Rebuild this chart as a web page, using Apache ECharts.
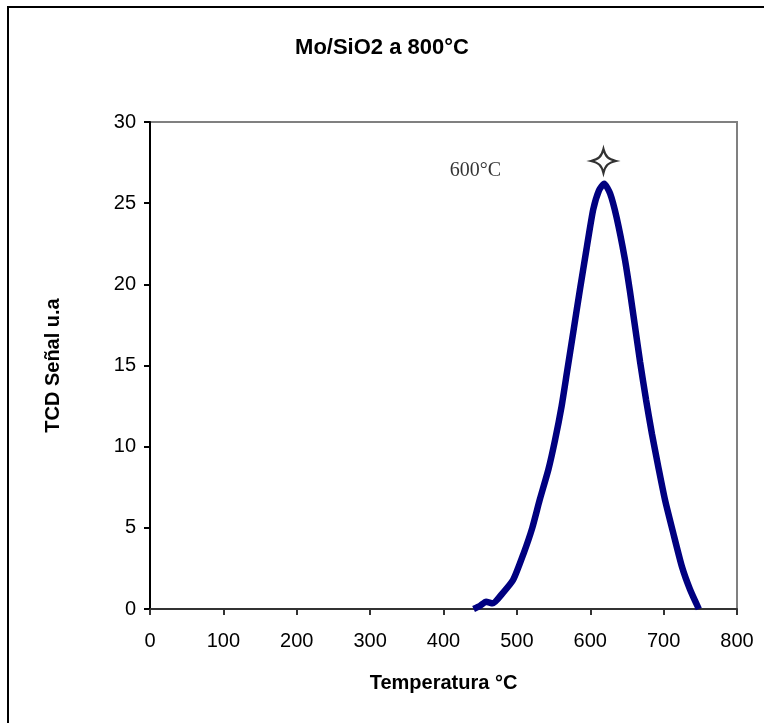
<!DOCTYPE html>
<html>
<head>
<meta charset="utf-8">
<script src="https://cdn.jsdelivr.net/npm/echarts@6/dist/echarts.min.js"></script>
<style>
  html, body { margin: 0; padding: 0; background: #fff; }
  #main { width: 764px; height: 723px; }
</style>
</head>
<body>
<div id="main"></div>
<script>
var dom = document.getElementById("main");
var myChart = echarts.init(dom, null, { renderer: "canvas" });

// TPR curve
var temps = [441, 450, 458, 467, 481, 495, 509, 521, 531, 543, 552, 561, 568, 577, 586, 595, 604, 612, 619,
  627, 636, 647, 654, 661, 668, 676, 684, 693, 702, 713, 725, 736, 748];
var signal = [0, 0.2, 0.45, 0.35, 1.0, 1.8, 3.4, 5.0, 6.7, 8.6, 10.4, 12.5, 14.5, 17.1, 19.7, 22.2, 24.6, 25.8, 26.2,
  25.6, 24.1, 21.6, 19.6, 17.4, 15.2, 12.9, 10.8, 8.7, 6.7, 4.7, 2.6, 1.2, 0];
var peakMark = [618, 27.6];
var peakLabel = [443.6, 27.0];
var peakText = "600°C";
var xTicks = [0, 800, 100];
var yTicks = [0, 30, 5];

var curve = temps.map(function (t, i) { return [t, signal[i]]; });

var starPath = "path://M0,-10 C1.6,-3.6 3.6,-1.6 10,0 C3.6,1.6 1.6,3.6 0,10 C-1.6,3.6 -3.6,1.6 -10,0 C-3.6,-1.6 -1.6,-3.6 0,-10 Z";

var option = {
  animation: false,
  backgroundColor: "#fff",
  textStyle: { fontFamily: "Liberation Sans, Arial, sans-serif" },
  title: {
    text: "Mo/SiO2 a 800°C",
    left: "center",
    top: 32,
    textStyle: { fontSize: 22, fontWeight: "bold", color: "#000" }
  },
  graphic: [
    {
      type: "rect",
      shape: { x: 8, y: 7, width: 800, height: 800 },
      style: { fill: "none", stroke: "#000", lineWidth: 2 },
      silent: true
    }
  ],
  grid: {
    left: 150, right: 27, top: 122, bottom: 114,
    show: true, borderColor: "#808080", borderWidth: 2, backgroundColor: "#fff"
  },
  xAxis: {
    type: "value",
    min: xTicks[0], max: xTicks[1], interval: xTicks[2],
    name: "Temperatura °C",
    nameLocation: "middle",
    nameGap: 64,
    nameTextStyle: { fontSize: 20, fontWeight: "bold", color: "#000" },
    axisLine: { show: true, lineStyle: { color: "#333", width: 2 } },
    axisTick: { show: true, length: 6, lineStyle: { color: "#333", width: 2 } },
    axisLabel: { fontSize: 20, color: "#000", margin: 22 },
    splitLine: { show: false }
  },
  yAxis: {
    type: "value",
    min: yTicks[0], max: yTicks[1], interval: yTicks[2],
    name: "TCD Señal u.a",
    nameLocation: "middle",
    nameGap: 87,
    nameTextStyle: { fontSize: 20, fontWeight: "bold", color: "#000" },
    axisLine: { show: true, lineStyle: { color: "#000", width: 2 } },
    axisTick: { show: true, length: 6, lineStyle: { color: "#000", width: 2 } },
    axisLabel: { fontSize: 20, color: "#000", margin: 14 },
    splitLine: { show: false }
  },
  series: [
    {
      name: "TCD",
      type: "line",
      smooth: 0.2,
      showSymbol: false,
      data: curve,
      lineStyle: { color: "#000080", width: 6.5 },
      z: 3
    },
    {
      name: "peak",
      type: "scatter",
      symbol: starPath,
      symbolSize: [25, 24],
      itemStyle: { color: "#fff", borderColor: "#000", borderWidth: 2.2 },
      data: [peakMark],
      z: 4
    },
    {
      name: "label",
      type: "scatter",
      symbolSize: 0,
      data: [peakLabel],
      label: {
        show: true,
        position: "inside",
        formatter: peakText,
        fontFamily: "Liberation Serif, Times New Roman, serif",
        fontSize: 20,
        color: "#000"
      }
    }
  ]
};

myChart.setOption(option);
window.addEventListener("resize", myChart.resize);
</script>
</body>
</html>
